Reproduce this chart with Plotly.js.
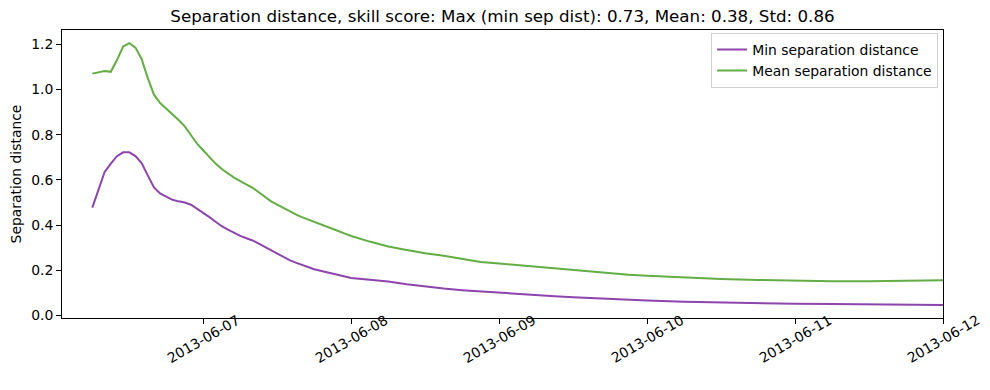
<!DOCTYPE html>
<html>
<head>
<meta charset="utf-8">
<script src="https://cdn.plot.ly/plotly-3.0.1.min.js"></script>
<style>html,body{margin:0;padding:0;background:#fff}#chart{width:990px;height:390px}</style>
</head>
<body>
<div id="chart"></div>
<script>
const times = [
  '2013-06-06 06:00','2013-06-06 07:00','2013-06-06 08:00','2013-06-06 09:00','2013-06-06 10:00','2013-06-06 11:00',
  '2013-06-06 12:00','2013-06-06 13:00','2013-06-06 14:00','2013-06-06 15:00','2013-06-06 16:00','2013-06-06 17:00',
  '2013-06-06 18:00','2013-06-06 19:00','2013-06-06 20:00','2013-06-06 21:00','2013-06-06 22:00','2013-06-06 23:00',
  '2013-06-07 00:00','2013-06-07 01:00','2013-06-07 02:00','2013-06-07 03:00','2013-06-07 04:00','2013-06-07 05:00',
  '2013-06-07 06:00','2013-06-07 07:00','2013-06-07 08:00','2013-06-07 09:00','2013-06-07 10:00','2013-06-07 11:00',
  '2013-06-07 12:00','2013-06-07 13:00','2013-06-07 14:00','2013-06-07 15:00','2013-06-07 16:00','2013-06-07 17:00',
  '2013-06-07 18:00','2013-06-07 19:00','2013-06-07 20:00','2013-06-07 21:00','2013-06-07 22:00','2013-06-07 23:00',
  '2013-06-08 00:00','2013-06-08 03:00','2013-06-08 06:00','2013-06-08 09:00','2013-06-08 12:00','2013-06-08 15:00',
  '2013-06-08 18:00','2013-06-08 21:00','2013-06-09 00:00','2013-06-09 03:00','2013-06-09 06:00','2013-06-09 09:00',
  '2013-06-09 12:00','2013-06-09 15:00','2013-06-09 18:00','2013-06-09 21:00','2013-06-10 00:00',
  '2013-06-10 06:00','2013-06-10 12:00','2013-06-10 18:00','2013-06-11 00:00','2013-06-11 06:00','2013-06-11 12:00',
  '2013-06-11 18:00','2013-06-12 00:00'
];

const minSep = [
  0.477, 0.560, 0.635, 0.672, 0.705, 0.722, 0.722, 0.705, 0.674, 0.620, 0.567, 0.540,
  0.525, 0.512, 0.505, 0.500, 0.490, 0.473,
  0.455, 0.435, 0.415, 0.395, 0.380, 0.365, 0.352, 0.342, 0.332, 0.318, 0.303, 0.287,
  0.272, 0.258, 0.245, 0.234, 0.224, 0.214, 0.205, 0.198, 0.192, 0.185, 0.178, 0.171,
  0.166, 0.158, 0.150, 0.138, 0.127, 0.119, 0.112, 0.106, 0.100, 0.095, 0.090, 0.085,
  0.081, 0.077, 0.073, 0.069, 0.066,
  0.061, 0.057, 0.054, 0.052, 0.051, 0.049, 0.048, 0.047
];

const meanSep = [
  1.070, 1.075, 1.082, 1.078, 1.130, 1.190, 1.205, 1.185, 1.135, 1.050, 0.977, 0.940,
  0.915, 0.892, 0.865, 0.837, 0.800, 0.760,
  0.730, 0.700, 0.672, 0.648, 0.628, 0.610, 0.595, 0.580, 0.565, 0.545, 0.525, 0.505,
  0.490, 0.475, 0.460, 0.447, 0.435, 0.425, 0.415, 0.406, 0.395, 0.385, 0.373, 0.362,
  0.352, 0.327, 0.305, 0.290, 0.275, 0.264, 0.249, 0.237, 0.230, 0.223, 0.214, 0.207,
  0.199, 0.192, 0.186, 0.180, 0.176,
  0.167, 0.161, 0.157, 0.154, 0.152, 0.152, 0.153, 0.156
];

const xTicks = ['2013-06-07','2013-06-08','2013-06-09','2013-06-10','2013-06-11','2013-06-12'];
const xTickLabels = ['2013-06-07','2013-06-08','2013-06-09','2013-06-10','2013-06-11','2013-06-12'];
const yTicks = [0.0, 0.2, 0.4, 0.6, 0.8, 1.0, 1.2];
const yTickLabels = ['0.0','0.2','0.4','0.6','0.8','1.0','1.2'];

const font = 'DejaVu Sans, sans-serif';
const fs = 13.9;

const traces = [
  {x: times, y: minSep, type: 'scatter', mode: 'lines', name: 'Min separation distance',
   line: {color: '#8e44ad', width: 2}},
  {x: times, y: meanSep, type: 'scatter', mode: 'lines', name: 'Mean separation distance',
   line: {color: '#62ad44', width: 2}}
];

// rotated date labels, centred under each tick (matplotlib style)
const tickAnnotations = xTicks.map((t, i) => ({
  x: t, xref: 'x', y: 0, yref: 'paper',
  text: xTickLabels[i], showarrow: false, textangle: -30,
  xanchor: 'center', yanchor: 'top', yshift: 9,
  font: {family: font, size: fs, color: '#000'}
}));

const layout = {
  width: 990, height: 390,
  margin: {l: 62, r: 47, t: 30, b: 72},
  paper_bgcolor: '#fff', plot_bgcolor: '#fff',
  font: {family: font, size: fs, color: '#000'},
  title: {text: 'Separation distance, skill score: Max (min sep dist): 0.73, Mean: 0.38, Std: 0.86',
          x: 0.5, xref: 'paper', xanchor: 'center', y: 1 - 16/390, yref: 'container', yanchor: 'middle',
          font: {family: font, size: 16.7, color: '#000'}},
  xaxis: {
    type: 'date', range: ['2013-06-06 01:05', '2013-06-12 00:00'],
    tickmode: 'array', tickvals: xTicks, ticktext: xTickLabels, showticklabels: false,
    ticks: 'outside', ticklen: 5, tickwidth: 1, tickcolor: '#000',
    showgrid: false, zeroline: false, showline: true, linecolor: '#000', linewidth: 1, mirror: true
  },
  yaxis: {
    range: [-0.011, 1.263],
    tickmode: 'array', tickvals: yTicks, ticktext: yTickLabels,
    ticks: 'outside', ticklen: 5, tickwidth: 1, tickcolor: '#000',
    showgrid: false, zeroline: false, showline: true, linecolor: '#000', linewidth: 1, mirror: true,
    tickfont: {family: font, size: fs, color: '#000'},
    title: {text: 'Separation distance', font: {family: font, size: fs, color: '#000'}, standoff: 6}
  },
  annotations: tickAnnotations,
  legend: {
    x: 0.9945, xanchor: 'right', y: 0.99, yanchor: 'top',
    bgcolor: 'rgba(255,255,255,0.8)', bordercolor: '#d0d0d0', borderwidth: 1,
    font: {family: font, size: fs, color: '#000'},
    itemwidth: 30, tracegroupgap: 0
  },
  showlegend: true
};

Plotly.newPlot('chart', traces, layout, {displayModeBar: false, staticPlot: true});
</script>
</body>
</html>
